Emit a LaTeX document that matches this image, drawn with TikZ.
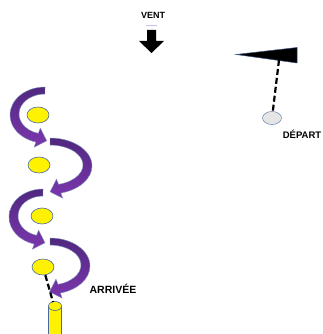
\documentclass[tikz,border=0pt]{standalone}
\usepackage{fontspec}
\setmainfont{Liberation Sans}
\usepackage{tikz}
\usetikzlibrary{shapes.geometric}

\definecolor{violetD}{RGB}{80,40,126}
\definecolor{violetL}{RGB}{124,54,174}
\definecolor{edgeblue}{RGB}{72,104,160}

\begin{document}
\begin{tikzpicture}[x=1pt, y=1pt,
    label node/.style={font=\fontsize{9}{10}\selectfont\bfseries},
    ball/.style={ellipse, draw=edgeblue, line width=0.6pt, fill=yellow,
                 minimum width=22pt, minimum height=16pt, inner sep=0pt},
    ribbon/.style={draw=edgeblue!70, line width=0.4pt, top color=violetD, bottom color=violetL},
    dash line/.style={line width=2.2pt, dash pattern=on 6pt off 3pt}]
  \useasboundingbox (0,0) rectangle (323,-334);

  % wind
  \node[label node] (vent) at (153,-15.5) {VENT};
  \draw[cyan!25!blue!25, line width=0.8pt] (146,-25) -- (157,-25);
  \fill (147,-30) -- (156,-30) -- (156,-41) -- (164,-41) -- (151.5,-53) -- (139,-41) -- (147,-41) -- cycle;

  % start
  \draw[fill=black, draw=edgeblue!80!black, line width=0.5pt] (236,-54.5) -- (297,-47.5) -- (297,-63) -- cycle;
  \coordinate (flag) at (279,-60);
  \node[ellipse, draw=edgeblue, fill=gray!20, minimum width=19pt, minimum height=13pt,
        inner sep=0pt] (depart) at (272,-118) {};
  \node[label node, font=\fontsize{9.5}{10}\selectfont\bfseries] (deplbl) at (302,-134.5) {DÉPART};
  \draw[dash line] (flag) -- (depart);

  % spiral
  \foreach \n/\x/\y in {1/38/115, 2/39/165, 3/42/216, 4/43/267}
    \node[ball] (b\n) at (\x,-\y) {};
  \foreach \x/\y/\s/\r in {45/115/-1/35, 50/166/1/42, 43/217/-1/34, 50/266/1/40}
  {
    \begin{scope}[shift={(\x,-\y)}, xscale=\s]
      \path[ribbon] (0,28) arc[start angle=90, end angle=-75, x radius=\r, y radius=28]
        -- ({0.259*(\r-5)+3.1},-32.2) -- ({0.259*(\r-5)-9.5},-25.8)
        -- ({0.259*(\r-5)-3.1},-13.2) -- ({0.259*(\r-9)},-18.35)
        arc[start angle=-75, end angle=90, x radius=\r-9, y radius=20] -- cycle;
    \end{scope}
  }

  % finish
  \filldraw[draw=edgeblue, fill=yellow, line width=0.6pt] (48.5,-306) rectangle (61.5,-340);
  \filldraw[draw=edgeblue, fill=yellow, line width=0.6pt] (55,-306) ellipse[x radius=6.5, y radius=4.5];
  \coordinate (goal) at (53,-302);
  \node[label node, font=\fontsize{10.5}{11}\selectfont\bfseries] (arrlbl) at (113,-289) {ARRIVÉE};
  \draw[dash line] (b4) -- (goal);
\end{tikzpicture}
\end{document}
